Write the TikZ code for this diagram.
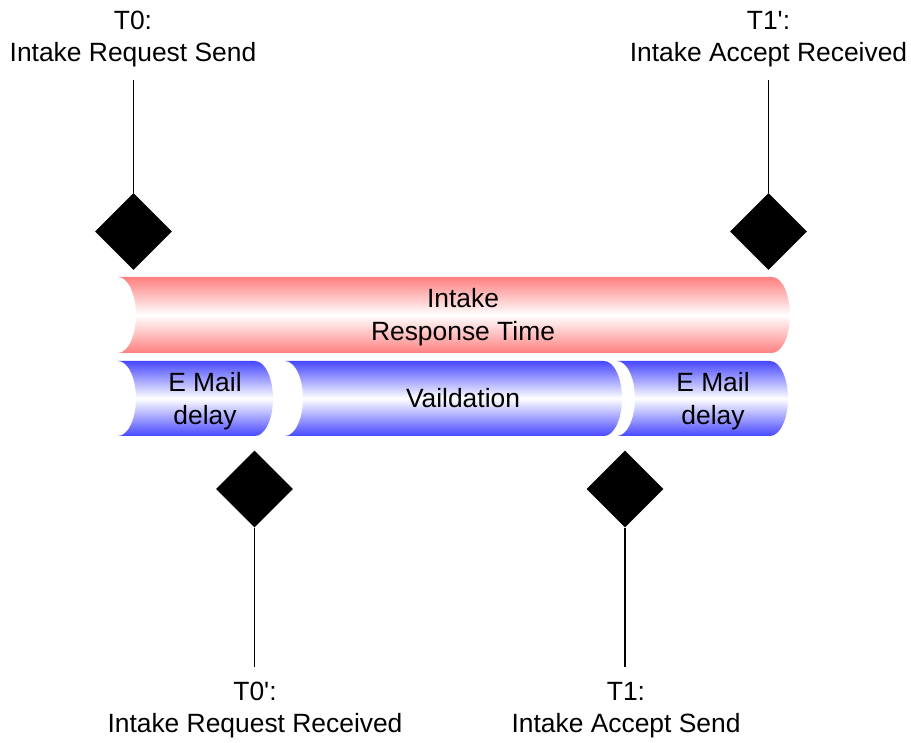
\documentclass[tikz,border=0pt]{standalone}
\usepackage{fontspec}
\setmainfont{Liberation Sans}
\newfontfamily\arialfont{Liberation Sans}
\usetikzlibrary{shapes.geometric}
\begin{document}
\begin{tikzpicture}[x=1pt,y=1pt,
  lbl/.style={align=center,inner sep=0pt,font=\arialfont\fontsize{26.4}{32.5}\selectfont},
  marker/.style={diamond,fill=black,inner sep=0pt,minimum width=77pt,minimum height=77pt,aspect=1},
  stem/.style={line width=1.6pt},
  redpipe/.style={top color=red!50,bottom color=red!50,middle color=white},
  bluepipe/.style={top color=blue!72,bottom color=blue!72,middle color=white}]
\useasboundingbox (0,0) rectangle (911,743);
% bars
\path[redpipe] (118,466) -- (772,466) arc[start angle=90,end angle=-90,x radius=18pt,y radius=38pt]
  -- (118,390) arc[start angle=-90,end angle=90,x radius=18pt,y radius=38pt] -- cycle;
\path[bluepipe] (118,382) -- (255,382) arc[start angle=90,end angle=-90,x radius=18pt,y radius=37.5pt]
  -- (118,307) arc[start angle=-90,end angle=90,x radius=18pt,y radius=37.5pt] -- cycle;
\path[bluepipe] (285,382) -- (604,382) arc[start angle=90,end angle=-90,x radius=18pt,y radius=37.5pt]
  -- (285,307) arc[start angle=-90,end angle=90,x radius=18pt,y radius=37.5pt] -- cycle;
\path[bluepipe] (617,382) -- (770,382) arc[start angle=90,end angle=-90,x radius=18pt,y radius=37.5pt]
  -- (617,307) arc[start angle=-90,end angle=90,x radius=18pt,y radius=37.5pt] -- cycle;
% bar texts
\node[lbl] (irt) at (463,426) {Intake\\Response Time};
\node[lbl] (em1) at (205,342) {E Mail\\delay};
\node[lbl] (val) at (463,344.5) {Vaildation};
\node[lbl] (em2) at (713,342) {E Mail\\delay};
% markers
\node[marker] (d0) at (133.5,511.5) {};
\node[marker] (d1p) at (768.5,511.5) {};
\node[marker] (d0p) at (254.5,254) {};
\node[marker] (d1) at (625,254) {};
% stems
\coordinate (c0) at (133.5,663);
\coordinate (c1p) at (768.5,663);
\coordinate (c0p) at (254.5,76);
\coordinate (c1) at (625,76);
\draw[stem] (d0.north) -- (c0);
\draw[stem] (d1p.north) -- (c1p);
\draw[stem] (d0p.south) -- (c0p);
\draw[stem] (d1.south) -- (c1);
% labels
\node[lbl] (t0) at (133,704) {T0:\\Intake Request Send};
\node[lbl] (t1p) at (768.5,704) {T1':\\Intake Accept Received};
\node[lbl] (t0p) at (255,33) {T0':\\Intake Request Received};
\node[lbl] (t1) at (626,33) {T1:\\Intake Accept Send};
\end{tikzpicture}
\end{document}
